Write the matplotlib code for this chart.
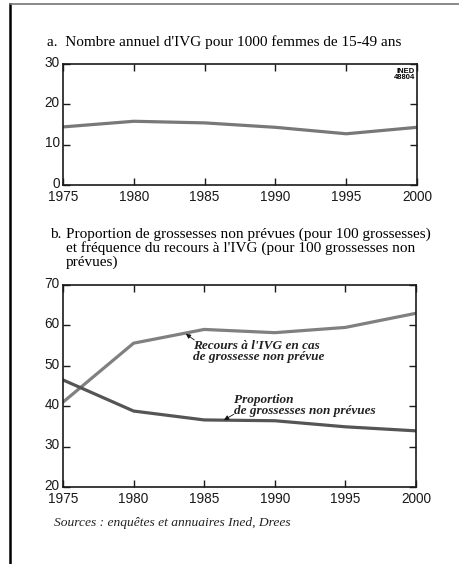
import matplotlib.pyplot as plt
from matplotlib.lines import Line2D
from matplotlib.transforms import ScaledTranslation

years = [1975, 1980, 1985, 1990, 1995, 2000]
ivg_rate = [14.4, 15.8, 15.4, 14.3, 12.7, 14.3]
recours = [41.0, 55.6, 59.0, 58.2, 59.5, 63.0]
proportion = [46.5, 38.8, 36.6, 36.4, 34.9, 33.9]

W, H = 459, 564
fig = plt.figure(figsize=(W / 100, H / 100), dpi=100)

tick_font = ['Liberation Sans', 'DejaVu Sans']
serif = ['Liberation Serif', 'DejaVu Serif']


def px(x0, y_top, w, h):
    # pixel box -> figure fraction
    return [x0 / W, 1 - (y_top + h) / H, w / W, h / H]


def style_axes(ax, yticks):
    ax.set_xlim(1975, 2000)
    ax.set_xticks(years)
    ax.set_yticks(yticks)
    ax.set_ylim(yticks[0], yticks[-1])
    ax.tick_params(direction='in', top=True, right=True, length=5, width=1,
                   labelsize=9.8, colors='#1a1a1a')
    ax.tick_params(axis='x', pad=3.5)
    ax.tick_params(axis='y', pad=2.5)
    # y labels sit a little above their ticks in the original
    up = ScaledTranslation(0, 2 / 72, fig.dpi_scale_trans)
    for lab in ax.get_yticklabels():
        lab.set_family(tick_font)
        lab.set_transform(lab.get_transform() + up)
    for lab in ax.get_xticklabels():
        lab.set_family(tick_font)
    for s in ax.spines.values():
        s.set_linewidth(1.2)
        s.set_color('#1a1a1a')


# chart a
ax1 = fig.add_axes(px(63, 64, 354, 121))
ax1.plot(years, ivg_rate, color='#787878', lw=2.3)
style_axes(ax1, [0, 10, 20, 30])
ax1.text(0.995, 0.97, 'INED\n48804', transform=ax1.transAxes, ha='right', va='top',
         fontsize=5.5, fontweight='bold', family=tick_font, linespacing=0.9)
fig.text(47 / W, 1 - 42 / H, "a.  Nombre annuel d'IVG pour 1000 femmes de 15-49 ans",
         family=serif, fontsize=11, va='center', ha='left')

# chart b
ax2 = fig.add_axes(px(63, 285, 353, 202))
ax2.plot(years, recours, color='#808080', lw=2.3)
ax2.plot(years, proportion, color='#555555', lw=2.3)
style_axes(ax2, [20, 30, 40, 50, 60, 70])

fig.text(50 / W, 1 - 234 / H, "b.", family=serif, fontsize=11, va='center')
fig.text(66 / W, 1 - 248 / H,
         "Proportion de grossesses non prévues (pour 100 grossesses)\n"
         "et fréquence du recours à l'IVG (pour 100 grossesses non\nprévues)",
         family=serif, fontsize=11, va='center', ha='left', linespacing=1.02)

note = dict(fontsize=9.5, style='italic', fontweight='bold', family=serif,
            ha='left', linespacing=0.85, color='#222222')
arrow = dict(arrowstyle='-|>', color='#111111', lw=0.6, mutation_scale=7,
             shrinkA=0, shrinkB=0)

ax2.text(1984.2, 56.3, "Recours à l'IVG en cas\nde grossesse non prévue", va='top', **note)
ax2.annotate('', xy=(1983.7, 57.9), xytext=(1984.3, 56.4), arrowprops=arrow)

ax2.text(1987.1, 37.3, "Proportion\nde grossesses non prévues", va='bottom', **note)
ax2.annotate('', xy=(1986.4, 36.6), xytext=(1987.1, 38.0), arrowprops=arrow)

fig.text(54 / W, 1 - 523 / H, "Sources : enquêtes et annuaires Ined, Drees",
         family=serif, fontsize=9.7, style='italic', va='center', ha='left',
         color='#222222')

# page frame
fig.add_artist(Line2D([10 / W, 10 / W], [0, 1 - 4 / H], color='black', lw=1.8))
fig.add_artist(Line2D([10 / W, 1], [1 - 4 / H, 1 - 4 / H], color='#777777', lw=1.2))

fig.savefig('out.png', dpi=100)
